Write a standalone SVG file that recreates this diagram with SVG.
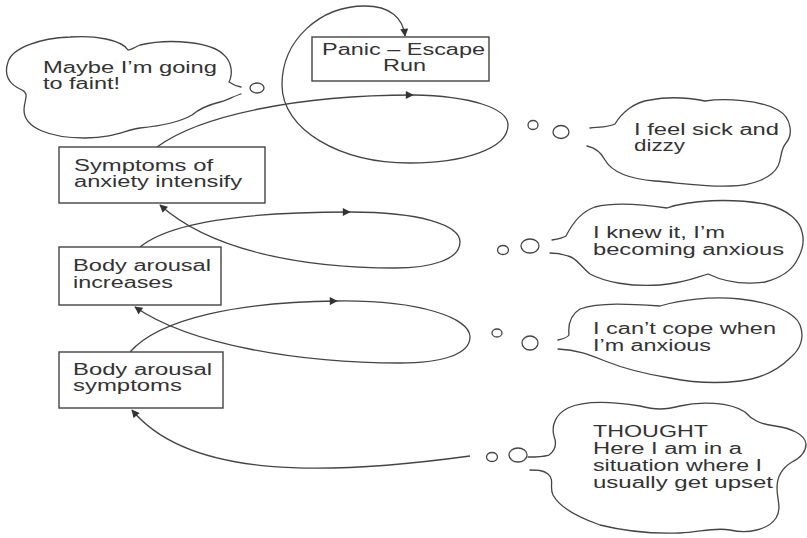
<svg xmlns="http://www.w3.org/2000/svg" width="807" height="538" viewBox="0 0 807 538">
<style>
  .bg{fill:#ffffff}
  .box{fill:#ffffff;stroke:#444;stroke-width:1.4}
  .cloud{fill:none;stroke:#444;stroke-width:1.3;stroke-linecap:round;stroke-linejoin:round}
  .bub{fill:#ffffff;stroke:#444;stroke-width:1.3}
  .con{fill:none;stroke:#444;stroke-width:1.3}
  text{font-family:"Liberation Sans",Arial,sans-serif;font-size:16px;fill:#333}
</style>
<defs>
  <marker id="ah" viewBox="0 0 10 10" refX="9" refY="5" markerWidth="9" markerHeight="8" markerUnits="userSpaceOnUse" orient="auto">
    <path d="M0,0 L10,5 L0,10 Z" fill="#333"/>
  </marker>
</defs>
<rect class="bg" x="0" y="0" width="807" height="538"/>

<g id="connectors">
  <path class="con" d="M 157,147 C 200,115 300,95 413,95" marker-end="url(#ah)"/>
  <path class="con" d="M 413,95 C 470,96 508,108 508,125 C 508,150 460,163 410,163 C 340,163 282,130 282,85 C 282,40 320,6 365,6 C 390,6 403,18 405,36" marker-end="url(#ah)"/>
  <path class="con" d="M 140,247 C 170,222 250,212 350,212" marker-end="url(#ah)"/>
  <path class="con" d="M 350,212 C 420,212 460,225 460,242 C 460,260 430,268 395,268 C 300,268 210,250 160,205" marker-end="url(#ah)"/>
  <path class="con" d="M 130,352 C 160,318 240,302 337,301" marker-end="url(#ah)"/>
  <path class="con" d="M 337,301 C 420,300 470,318 470,337 C 470,355 440,363 400,363 C 300,363 190,345 135,307" marker-end="url(#ah)"/>
  <path class="con" d="M 470,456 C 330,475 190,480 132,410" marker-end="url(#ah)"/>
</g>

<g id="panic">
  <rect class="box" x="312" y="37" width="177" height="44"/>
  <text x="322" y="55" textLength="163" lengthAdjust="spacingAndGlyphs">Panic – Escape</text>
  <text x="383" y="71" textLength="43" lengthAdjust="spacingAndGlyphs">Run</text>
</g>

<g id="symptoms-intensify">
  <rect class="box" x="59" y="147" width="206" height="56"/>
  <text x="74" y="171" textLength="139" lengthAdjust="spacingAndGlyphs">Symptoms of</text>
  <text x="74" y="187" textLength="168" lengthAdjust="spacingAndGlyphs">anxiety intensify</text>
</g>

<g id="arousal-increases">
  <rect class="box" x="59" y="247" width="162" height="58"/>
  <text x="73" y="271" textLength="138" lengthAdjust="spacingAndGlyphs">Body arousal</text>
  <text x="73" y="288" textLength="100" lengthAdjust="spacingAndGlyphs">increases</text>
</g>

<g id="arousal-symptoms">
  <rect class="box" x="59" y="352" width="164" height="56"/>
  <text x="73" y="375" textLength="139" lengthAdjust="spacingAndGlyphs">Body arousal</text>
  <text x="73" y="391" textLength="109" lengthAdjust="spacingAndGlyphs">symptoms</text>
</g>

<g id="cloud-faint">
  <path class="cloud" d="M 241,87 C 236,86 232,84 229,82 C 233,74 232,62 224,55 C 212,42 170,38 140,45 C 135,47 131,50 128,50 C 122,40 95,35 70,37 C 40,38 12,48 8,62 C 4,74 8,84 22,90 C 30,94 24,100 24,110 C 24,128 50,138 85,138 C 115,138 125,130 140,128 C 160,126 180,122 192,115 C 200,108 212,104 220,102 C 228,100 234,96 241,94"/>
  <ellipse class="bub" cx="257" cy="88" rx="7" ry="5"/>
  <text x="43" y="73" textLength="174" lengthAdjust="spacingAndGlyphs">Maybe I’m going</text>
  <text x="43" y="89" textLength="77" lengthAdjust="spacingAndGlyphs">to faint!</text>
</g>

<g id="cloud-sick">
  <ellipse class="bub" cx="533" cy="125" rx="5" ry="4.5"/>
  <ellipse class="bub" cx="561" cy="132" rx="8" ry="6.5"/>
  <path class="cloud" d="M 590,128 C 600,127 610,127 615,124 C 622,112 635,102 650,100 C 670,96 690,98 705,101 C 725,98 760,100 778,110 C 792,118 793,135 786,143 C 780,150 782,158 778,166 C 772,178 752,186 730,186 C 705,187 680,183 655,181 C 630,179 612,172 605,160 C 601,152 596,148 587,146"/>
  <text x="634" y="135" textLength="145" lengthAdjust="spacingAndGlyphs">I feel sick and</text>
  <text x="634" y="151" textLength="51" lengthAdjust="spacingAndGlyphs">dizzy</text>
</g>

<g id="cloud-knew">
  <ellipse class="bub" cx="503" cy="250" rx="5.5" ry="4.5"/>
  <ellipse class="bub" cx="530" cy="246" rx="9" ry="7"/>
  <path class="cloud" d="M 552,240 C 558,239 563,238 566,236 C 572,224 580,212 595,207 C 615,202 640,204 667,208 C 690,200 730,198 765,204 C 790,210 800,222 802,232 C 805,242 802,252 796,262 C 790,272 780,278 765,282 C 745,285 725,282 708,274 C 695,278 685,283 660,285 C 630,287 605,282 590,274 C 580,266 577,258 568,256 C 562,254 556,253 550,253"/>
  <text x="593" y="238" textLength="132" lengthAdjust="spacingAndGlyphs">I knew it, I’m</text>
  <text x="593" y="255" textLength="191" lengthAdjust="spacingAndGlyphs">becoming anxious</text>
</g>

<g id="cloud-cope">
  <ellipse class="bub" cx="497" cy="333" rx="5" ry="4"/>
  <ellipse class="bub" cx="530" cy="343" rx="8" ry="7"/>
  <path class="cloud" d="M 558,340 C 563,339 567,338 569,335 C 568,325 570,315 580,309 C 600,302 630,304 660,306 C 680,300 710,296 740,299 C 770,302 795,312 800,325 C 805,338 800,350 790,358 C 780,368 765,378 740,381 C 715,384 690,382 670,378 C 645,374 625,369 605,361 C 590,355 578,350 558,349"/>
  <text x="593" y="334" textLength="183" lengthAdjust="spacingAndGlyphs">I can’t cope when</text>
  <text x="593" y="351" textLength="118" lengthAdjust="spacingAndGlyphs">I’m anxious</text>
</g>

<g id="cloud-thought">
  <ellipse class="bub" cx="492" cy="457" rx="5.5" ry="4.5"/>
  <ellipse class="bub" cx="518" cy="455" rx="9" ry="7"/>
  <path class="cloud" d="M 528,457 C 535,457 542,457 549,455 C 556,450 557,444 554,436 C 551,425 556,414 568,408 C 585,400 615,402 640,406 C 655,410 665,410 680,406 C 700,401 730,402 745,412 C 752,420 760,424 775,426 C 790,428 805,434 806,444 C 806,452 800,458 792,462 C 782,468 777,476 777,488 C 777,500 782,508 776,518 C 768,530 748,534 730,530 C 715,527 700,532 680,533 C 650,534 620,530 600,525 C 580,518 560,508 553,495 C 549,487 555,480 548,474 C 543,470 537,470 530,470"/>
  <text x="593" y="437" textLength="115" lengthAdjust="spacingAndGlyphs">THOUGHT</text>
  <text x="593" y="454" textLength="149" lengthAdjust="spacingAndGlyphs">Here I am in a</text>
  <text x="593" y="471" textLength="169" lengthAdjust="spacingAndGlyphs">situation where I</text>
  <text x="593" y="488" textLength="180" lengthAdjust="spacingAndGlyphs">usually get upset</text>
</g>
</svg>
